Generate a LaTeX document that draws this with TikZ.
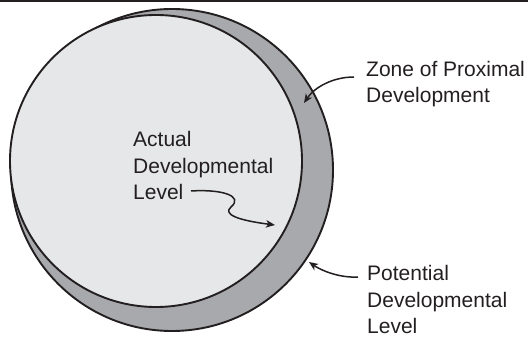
\documentclass[tikz,border=0pt]{standalone}
\usepackage{fontspec}
\setmainfont{Liberation Sans}
\usetikzlibrary{arrows.meta}
\definecolor{diskgray}{HTML}{E6E7E8}
\definecolor{zonegray}{HTML}{A7A9AC}
\definecolor{ink}{HTML}{231F20}
\tikzset{
    disk/.style={draw=ink, line width=1.9pt},
    textlabel/.style={align=left, inner sep=0pt, text=ink,
        font=\fontsize{21}{26.5}\selectfont},
    pointer/.style={-{Stealth[length=9pt, width=7.5pt, inset=2.5pt]}, draw=ink, line width=1.5pt},
}

\begin{document}
\begin{tikzpicture}[x=1pt, y=-1pt]
    \useasboundingbox (0,0) rectangle (528,339);
    \fill[ink] (0,0) rectangle (528,2.5);
    % potential level behind, actual level in front
    \draw[disk, fill=zonegray] (172,170) circle[radius=161];
    \draw[disk, fill=diskgray] (156,161) circle[radius=146];
    % base anchor sits on the last line
    \node[textlabel, anchor=base west] (adl) at (133,200) {Actual\\Developmental\\Level};
    \node[textlabel, anchor=base west] (zpd) at (366,103) {Zone of Proximal\\Development};
    \node[textlabel, anchor=base west, text depth=0pt] (pdl) at (367,334) {Potential\\Developmental\\Level};
    \coordinate (adl tail) at (191,191);
    \coordinate (adl tip) at (275,225);
    \coordinate (zpd tail) at (354,77);
    \coordinate (zpd tip) at (304,103);
    \coordinate (pdl tail) at (358,277);
    \coordinate (pdl tip) at (309,262);
    \draw[pointer] (adl tail) .. controls (222,189) and (244,196) .. (231,207)
        .. controls (223,214) and (236,220) .. (adl tip);
    \draw[pointer] (zpd tail) .. controls (332,77) and (314,88) .. (zpd tip);
    \draw[pointer] (pdl tail) .. controls (340,278) and (322,271) .. (pdl tip);
\end{tikzpicture}
\end{document}
